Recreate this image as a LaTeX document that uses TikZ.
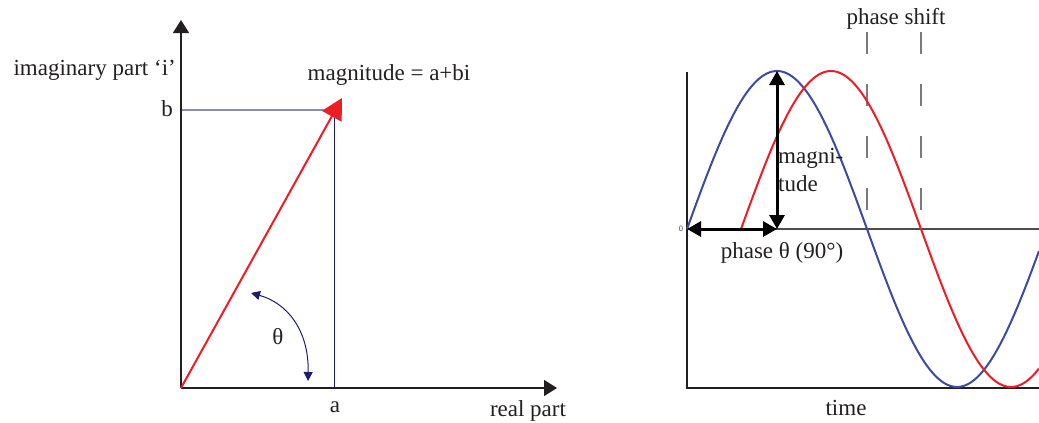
\documentclass[tikz,border=0pt]{standalone}
\usepackage{fontspec}
\setmainfont{Liberation Serif}
\usetikzlibrary{arrows.meta}
\definecolor{axisblack}{HTML}{231F20}
\definecolor{vred}{HTML}{EE1C25}
\definecolor{navy}{HTML}{1E1C6E}
\definecolor{lav}{HTML}{8C8CB4}
\definecolor{sblue}{HTML}{3A4BA0}
\definecolor{dashgrey}{HTML}{7A7A7A}
\tikzset{
  lbl/.style={inner sep=0pt, font=\fontsize{23}{27.6}\selectfont, text=axisblack},
  axisline/.style={draw=axisblack, line width=1.6pt},
  axisarrow/.style={axisline, -{Triangle[length=13pt,width=16pt]}},
  bigarrow/.style={draw=black, line width=3pt, {Triangle[length=14pt,width=15pt]}-{Triangle[length=14pt,width=15pt]}},
  wave/.style={line width=2pt},
  shiftline/.style={draw=dashgrey, line width=1.8pt, dash pattern=on 22pt off 30pt},
}
\begin{document}
\begin{tikzpicture}[x=1pt,y=-1pt]
\useasboundingbox (0,0) rectangle (1039,423);
% ---------- left diagram ----------
\coordinate (O) at (181,388);
\coordinate (ytop) at (181,20);
\coordinate (xend) at (557,388);
\coordinate (P) at (342,98);
\coordinate (bpt) at (181,110);
\coordinate (bend) at (328,110);
\coordinate (atop) at (334,113);
\coordinate (abot) at (334,388);
\draw[lav, line width=1.5pt] (bpt) -- (bend);
\draw[navy, line width=1pt] (atop) -- (abot);
\draw[axisarrow] (O) -- (ytop);
\draw[axisarrow] (O) -- (xend);
\draw[vred, line width=2pt, -{Triangle[length=21pt,width=22pt]}] (O) -- (P);
\coordinate (th1) at (251,293);
\coordinate (th2) at (308,381);
\draw[navy, line width=1pt, {Triangle[length=9pt,width=9pt]}-{Triangle[length=9pt,width=9pt]}]
  (th1) .. controls (287,303) and (309,330) .. (th2);
\node[lbl] (theta) at (278,337) {θ};
\node[lbl, anchor=base east] (imag) at (176,75) {imaginary part ‘i’};
\node[lbl, anchor=base] (blbl) at (167,116) {b};
\node[lbl, anchor=base] (albl) at (335,412) {a};
\node[lbl, anchor=base] (mag) at (389,80) {magnitude = a+bi};
\node[lbl, anchor=base] (real) at (528,416) {real part};
% ---------- right diagram ----------
\coordinate (R0) at (687,229);
\coordinate (Rtop) at (687,72);
\coordinate (Rbot) at (687,388);
\coordinate (Rbr) at (1039,388);
\coordinate (Rzr) at (1039,229);
\draw[draw=black!70, line width=1.1pt] (R0) -- (Rzr);
\draw[axisline] (Rtop) -- (Rbot) -- (Rbr);
\coordinate (ds1t) at (867,32);
\coordinate (ds1b) at (867,215);
\coordinate (ds2t) at (921,32);
\coordinate (ds2b) at (921,215);
\draw[shiftline] (ds1t) -- (ds1b);
\draw[shiftline] (ds2t) -- (ds2b);
\draw[sblue, wave] plot[domain=687:1039, samples=120] (\x, {229-158*sin(\x-687)});
\draw[vred, wave] plot[domain=741:1039, samples=120] (\x, {229-158*sin(\x-741)});
\coordinate (M0) at (777,229);
\coordinate (Mtop) at (777,71);
\draw[bigarrow] (M0) -- (Mtop);
\draw[bigarrow] (R0) -- (M0);
\node[inner sep=0pt, font=\sffamily\fontsize{8}{9}\selectfont, text=black!70] (zero) at (681,229) {0};
\node[lbl, anchor=base west, align=left] (magnitude) at (778,191) {magni-\\tude};
\node[lbl, anchor=base] (phase) at (782,258) {phase θ (90°)};
\node[lbl, anchor=base] (pshift) at (896,24) {phase shift};
\node[lbl, anchor=base] (time) at (846,415) {time};
\end{tikzpicture}
\end{document}
